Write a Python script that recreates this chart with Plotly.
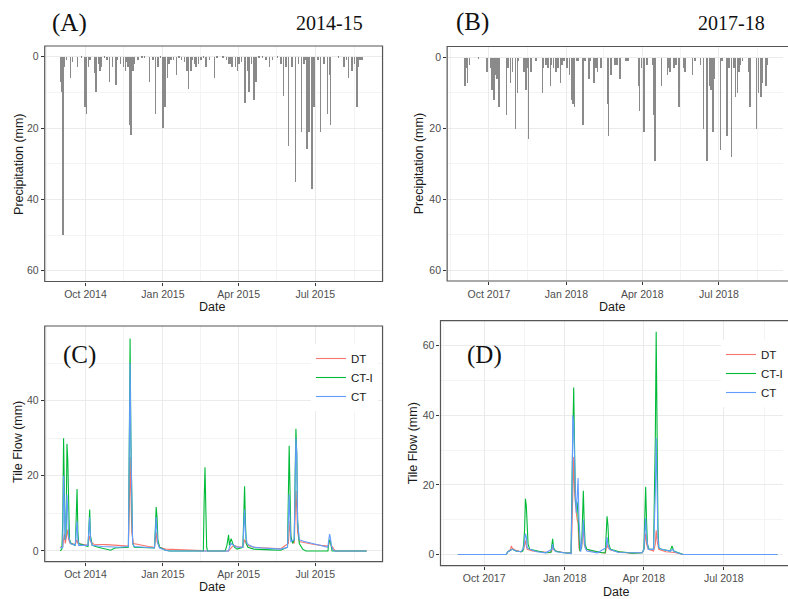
import pandas as pd
import plotly.graph_objects as go

W, H = 788, 599
SANS = "Liberation Sans, Arial, sans-serif"
SERIF = "Liberation Serif, Times New Roman, serif"

# ---------------- DATA ----------------
START_A = "2014-09-01"   # 2014-15 season, day 0
START_B = "2017-09-01"   # 2017-18 season, day 0

# daily precipitation events (day index, mm)
precip_a = [(0,7),(1,10),(3,50),(5,3),(7,1),(12,6),(14,1.5),(20,3),(25,0.5),(29,14),(31,16),(33,3),(35,1),
            (41,4.5),(42,10),(43,4),(45,2),(47,4),(49,3),(52,0.5),(55,1),(58,7),(62,3),(66,8),(68,1),(71,2),
            (75,3),(77,4),(79,1.5),(80,3),(82,19),(84,22),(86,4),(88,2),(92,1),(97,0.3),(100,0.5),(106,7),
            (110,1),(113,16),(116,3),(119,0.5),(122,20),(124,14),(127,6),(129,2),(131,1),(134,0.8),(138,5),
            (141,0.5),(144,1),(147,1.5),(150,4),(152,9),(155,4),(157,1),(159,2),(161,3),(164,2),(167,1),
            (170,0.5),(173,3),(177,1),(183,6),(186,0.3),(193,0.5),(197,1),(200,2),(202,2),(204,3),(208,3),
            (210,4),(212,2),(215,1.5),(219,13),(222,4),(224,10),(227,2),(230,12),(232,7),(233,5),(236,0.5),
            (240,0.5),(244,1),(248,3),(252,1),(258,0.3),(262,2),(265,11),(268,3),(271,25),(275,3),(279,35),
            (283,2),(286,21),(289,2),(291,1),(293,26),(295,21),(299,37),(301,14),(302,6),(306,1),(309,21),
            (313,2),(317,16),(320,5),(321,19),(330,0.5),(337,3),(340,1),(342,6),(346,4),(349,2),(352,14),
            (354,3),(356,1),(358,1)]

precip_b = [(1,7),(2,8),(4,3),(5,7),(7,2),(18,0.3),(28,4),(32,3),(34,9),(36,12),(38,5),(40,6),(42,14),
            (51,16),(53,3),(56,7),(58,4),(62,20),(64,10),(65,1),(72,4),(74,9),(76,3),(77,23),(80,4),(86,1),
            (94,10),(95,3),(98,2),(100,3),(103,8),(104,2),(107,3),(110,4),(112,3),(113,3),(115,7),(117,2),
            (119,1),(122,2),(123,3),(126,5),(128,12),(130,13),(132,14),(134,1),(136,1),(142,19),(144,1),
            (149,6),(151,1),(155,7),(157,3),(159,4),(163,3),(171,13),(172,22),(175,5),(180,2),(182,2),
            (186,6),(193,1),(195,1),(208,8),(209,15),(211,3),(214,21),(215,5),(218,2),(224,2),(226,16),
            (227,29),(228,11),(235,8),(242,5),(244,3),(245,4),(250,3),(252,2),(256,14),(261,3),(263,4),
            (272,5),(275,1),(281,2),(285,20),(289,29),(292,8),(294,9),(296,21),(298,6),(305,26),(307,1),
            (313,22),(315,3),(318,28),(321,3),(323,11),(325,10),(327,4),(329,2),(331,1),(339,4),(340,14),
            (348,20),(350,10),(353,11),(355,7),(359,8),(360,2)]

# tile flow breakpoints (day index, mm)
flow_c_dt = [(0,1.0),(3,1.2),(4,3),(5,4.5),(6,2),(8,4),(9,5.7),(10,3),(12,2),(18,1.8),(19,2.5),(20,3),(21,2),
             (33,1.5),(34,3),(35,4),(36,2.5),(40,1.8),(55,1.7),(70,1.4),(81,1.3),(82,10),(83,25),(84,15),
             (85,5),(87,2),(95,1.6),(105,1.2),(112,1.0),(113,3),(114,5),(115,2.5),(118,1),(125,0.5),
             (140,0.4),(160,0.3),(168,0.1),(171,0),(200,0),(203,0.8),(206,1.5),(210,1.2),(216,1),(218,2),
             (219,3),(220,2.5),(222,1.5),(230,1),(250,0.7),(262,0.6),(271,2),(272,6),(273,8),(274,3),
             (278,2),(279,9),(280,16),(281,11),(282,5),(284,2.5),(290,2.2),(300,1.8),(310,1.5),(318,1.3),
             (320,2.5),(322,1.5),(325,0.5),(327,0),(364,0)]
flow_c_cti = [(0,0),(2,0.5),(3,8),(4,30),(5,15),(6,3),(7,5),(8,28.5),(9,24),(10,8),(11,3),(13,2),(18,1.5),
              (19,9),(20,16.5),(21,5),(22,2),(33,1.2),(34,6),(35,11),(36,4),(38,1.5),(45,1),(55,0.5),(60,0.2),
              (65,0.8),(75,0.8),(81,1),(82,28),(83,56.5),(84,29),(85,8),(86,2),(88,1),(100,0.8),(112,0.8),
              (113,6),(114,11.7),(115,9),(116,3),(118,1),(125,0.2),(130,0),(170,0),(171,13.5),(172,22.3),
              (173,11),(174,1),(175,0),(196,0),(198,1.5),(200,4.3),(201,1.5),(203,3.3),(205,2),(207,1),
              (210,0.5),(217,1),(218,9),(219,17.2),(220,8),(221,2),(223,1),(230,0.5),(250,0.3),(262,0.2),
              (270,1),(271,15),(272,28),(273,16),(274,4),(276,2),(278,3),(279,20),(280,32.5),(281,26),
              (282,8),(284,2),(288,0.5),(292,0),(318,0),(319,2),(320,3),(321,2.5),(322,0.5),(323,0),(364,0)]
flow_c_ct = [(0,0.8),(3,1),(4,20),(5,10),(6,3),(8,15),(9,11),(10,4),(12,2),(18,1.5),(19,5),(20,8),(21,3),
             (22,1.5),(33,1.5),(34,7),(35,9),(36,3),(38,1.5),(50,1.2),(70,1.0),(81,1.2),(82,28),(83,50),
             (84,28),(85,7),(86,2),(88,1.2),(100,1.0),(112,0.8),(113,5),(114,9),(115,5),(116,2),(118,0.8),
             (125,0.2),(130,0),(200,0),(201,1),(203,2),(206,1.5),(210,1),(217,1),(218,7),(219,11),(220,5),
             (222,2),(225,1.5),(230,1),(240,0.8),(262,0.5),(270,1),(271,8),(272,15),(273,8),(274,2.5),
             (278,3),(279,25),(280,30),(281,26),(282,8),(284,3),(290,2.5),(300,2),(310,1.5),(318,1),
             (319,3),(320,4.5),(321,3.5),(322,1.5),(324,0.3),(326,0),(364,0)]

flow_d_dt = [(0,0),(55,0),(57,0.8),(60,1.5),(61,2.5),(62,1.8),(66,1.2),(72,0.8),(75,1.5),(76,3),(77,4),
             (78,2.5),(79,1.5),(85,1),(95,0.8),(105,0.6),(107,1),(108,2.5),(109,1.5),(112,1),(120,0.6),
             (129,0.4),(130,7),(131,20),(132,28),(133,18),(134,14),(135,12),(136,10),(137,9),(138,2),
             (139,1),(141,2),(142,5),(143,8),(144,3),(146,1.5),(153,1),(163,0.5),(168,0.4),(169,1.5),
             (170,3),(171,2),(174,1.3),(182,0.8),(197,0.4),(210,0.5),(212,1.5),(213,4),(214,6),(215,3),
             (217,1.5),(223,1),(225,3),(226,7),(227,4),(229,1.5),(237,0.8),(247,0.6),(252,0.3),(257,0),(364,0)]
flow_d_cti = [(0,0),(55,0),(57,0.8),(60,1.2),(62,1.5),(66,1),(72,0.8),(74,1),(75,3),(76,7),(77,16),(78,14),
              (79,8.5),(80,3),(82,1.5),(90,1),(100,0.5),(106,0.6),(107,2),(108,4.5),(109,2),(111,1),(120,0.5),
              (129,0.4),(130,20),(131,44),(132,48),(133,30.5),(134,15),(135,14),(136,15),(137,11),(138,3),
              (139,1),(141,2),(142,10),(143,18.3),(144,9),(145,3),(147,1.5),(154,1),(164,0.5),(168,0.5),
              (169,5),(170,11),(171,8.5),(172,3),(174,1.5),(184,0.8),(199,0.4),(210,0.5),(212,1.5),(213,10),
              (214,19.5),(215,10),(216,3),(218,1.5),(223,1.5),(224,18),(225,33),(226,64),(227,32),(228,8),
              (229,2),(232,1.5),(242,1),(244,2.5),(246,1),(252,0.5),(257,0),(364,0)]
flow_d_ct = [(0,0),(55,0),(57,0.8),(60,1.2),(62,1.5),(66,1),(72,0.8),(75,2),(76,4),(77,6),(78,5),(79,2),
             (82,1.5),(90,0.8),(100,0.5),(107,1.5),(108,3),(109,1.5),(112,0.8),(125,0.3),(129,0.3),(130,15),
             (131,40),(132,38),(133,23),(134,17),(135,12),(136,17),(137,22),(138,10),(139,2),(140,0.8),
             (142,5),(143,10),(144,5),(145,2),(147,1),(159,0.5),(169,2),(170,5),(171,3),(173,1.5),(183,0.6),
             (198,0.5),(210,0.5),(212,1.5),(213,6),(214,10.5),(215,5),(217,1.5),(223,1.5),(224,10),
             (225,17.5),(226,33.5),(227,17),(228,5),(229,2),(232,1.5),(242,1),(245,1.5),(247,0.8),(252,0.3),
             (256,0),(364,0)]

series_names = ["DT", "CT-I", "CT"]
series_colors = ["#F8766D", "#00BA38", "#619CFF"]

ticks_a_vals = ["2014-10-01", "2015-01-01", "2015-04-01", "2015-07-01"]
ticks_a_text = ["Oct 2014", "Jan 2015", "Apr 2015", "Jul 2015"]
minor_a_vals = ["2014-08-16", "2014-11-15 12:00", "2015-02-14 12:00", "2015-05-16 12:00", "2015-08-16"]
ticks_b_vals = ["2017-10-01", "2018-01-01", "2018-04-01", "2018-07-01"]
ticks_b_text = ["Oct 2017", "Jan 2018", "Apr 2018", "Jul 2018"]
minor_b_vals = ["2017-08-16", "2017-11-15 12:00", "2018-02-14 12:00", "2018-05-16 12:00", "2018-08-16"]

precip_ticks = [0, 20, 40, 60]
flow_c_ticks = [0, 20, 40]
flow_d_ticks = [0, 20, 40, 60]
y_minor = [10, 30, 50]

# ---------------- HELPERS ----------------
def dates(start, pairs):
    s = pd.Timestamp(start)
    return [s + pd.Timedelta(days=d) for d, _ in pairs]

def vals(pairs):
    return [v for _, v in pairs]

def px_x(p):
    return p / W

def px_y(p):
    return 1 - p / H

fig = go.Figure()

DAY_MS = 86400000
BAR_COLOR = "#8a8a8a"
fig.add_trace(go.Bar(x=dates(START_A, precip_a), y=vals(precip_a), width=0.6 * DAY_MS,
                     marker=dict(color=BAR_COLOR, line=dict(width=0)), xaxis="x", yaxis="y", showlegend=False))
fig.add_trace(go.Bar(x=dates(START_B, precip_b), y=vals(precip_b), width=0.6 * DAY_MS,
                     marker=dict(color=BAR_COLOR, line=dict(width=0)), xaxis="x2", yaxis="y2", showlegend=False))

for name, col, data in zip(series_names, series_colors, [flow_c_dt, flow_c_cti, flow_c_ct]):
    fig.add_trace(go.Scatter(x=dates(START_A, data), y=vals(data), mode="lines", name=name,
                             line=dict(color=col, width=1.1), xaxis="x3", yaxis="y3", legend="legend"))
for name, col, data in zip(series_names, series_colors, [flow_d_dt, flow_d_cti, flow_d_ct]):
    fig.add_trace(go.Scatter(x=dates(START_B, data), y=vals(data), mode="lines", name=name,
                             line=dict(color=col, width=1.1), xaxis="x4", yaxis="y4", legend="legend2"))

# panel geometry in pixels: (left, right, top, bottom)
PA = (45, 385, 46, 281.5)
PB = (450, 788, 46.5, 281)
PC = (45, 385, 326, 561.7)
PD = (443.3, 788, 320.7, 565.7)

def xax(p, rng, tv, tt, mv, anchor):
    return dict(domain=[px_x(p[0]), px_x(p[1])], range=rng, type="date", anchor=anchor,
                tickmode="array", tickvals=tv, ticktext=tt, ticks="outside", ticklen=3,
                tickcolor="#333333", tickwidth=1,
                tickfont=dict(family=SANS, size=10.5, color="#4d4d4d"),
                showgrid=True, gridcolor="#ebebeb", gridwidth=1,
                minor=dict(tickvals=mv, showgrid=True, gridcolor="#f4f4f4", gridwidth=0.6, ticks=""),
                showline=False, zeroline=False, fixedrange=True)

def yax(p, rng, tv, anchor):
    return dict(domain=[px_y(p[3]), px_y(p[2])], range=rng, anchor=anchor,
                tickmode="array", tickvals=tv, ticks="outside", ticklen=3,
                tickcolor="#333333", tickwidth=1,
                tickfont=dict(family=SANS, size=10.5, color="#4d4d4d"),
                showgrid=True, gridcolor="#ebebeb", gridwidth=1,
                minor=dict(tickvals=y_minor, showgrid=True, gridcolor="#f4f4f4", gridwidth=0.6, ticks=""),
                showline=False, zeroline=False, fixedrange=True)

fig.update_layout(
    width=W, height=H, margin=dict(l=0, r=0, t=0, b=0),
    paper_bgcolor="white", plot_bgcolor="white", bargap=0,
    xaxis=xax(PA, ["2014-08-13 14:00", "2015-09-18 22:00"], ticks_a_vals, ticks_a_text, minor_a_vals, "y"),
    yaxis=yax(PA, [63, -3], precip_ticks, "x"),
    xaxis2=xax(PB, ["2017-08-12 10:00", "2018-09-15 00:00"], ticks_b_vals, ticks_b_text, minor_b_vals, "y2"),
    yaxis2=yax(PB, [63, -3], precip_ticks, "x2"),
    xaxis3=xax(PC, ["2014-08-13 14:00", "2015-09-18 22:00"], ticks_a_vals, ticks_a_text, minor_a_vals, "y3"),
    yaxis3=yax(PC, [-2.85, 59.85], flow_c_ticks, "x3"),
    xaxis4=xax(PD, ["2017-08-12 05:00", "2018-09-06 12:00"], ticks_b_vals, ticks_b_text, minor_b_vals, "y4"),
    yaxis4=yax(PD, [-3.2, 67.2], flow_d_ticks, "x4"),
    legend=dict(x=px_x(313), y=px_y(344), xanchor="left", yanchor="top", bgcolor="white",
                font=dict(family=SANS, size=11.5, color="#1a1a1a"), borderwidth=0),
    legend2=dict(x=px_x(726), y=px_y(340), xanchor="left", yanchor="top", bgcolor="white",
                 font=dict(family=SANS, size=11.5, color="#1a1a1a"), borderwidth=0),
)

# panel borders
shapes = []
for p, extra in [(PA, 0), (PB, 6), (PC, 0), (PD, 6)]:
    shapes.append(dict(type="rect", xref="paper", yref="paper",
                       x0=px_x(p[0]), x1=px_x(p[1] + extra), y0=px_y(p[3]), y1=px_y(p[2]),
                       line=dict(color="#555555", width=1.2), fillcolor="rgba(0,0,0,0)", layer="above"))
fig.update_layout(shapes=shapes)

ann = []
def add_text(txt, x, y, size, family=SANS, color="#1a1a1a", angle=0):
    ann.append(dict(text=txt, x=px_x(x), y=px_y(y), xref="paper", yref="paper", showarrow=False,
                    xanchor="center", yanchor="middle", textangle=angle,
                    font=dict(family=family, size=size, color=color)))

add_text("(A)", 70, 23, 25, SERIF, "#111111")
add_text("2014-15", 332, 23, 20, SERIF, "#111111")
add_text("(B)", 475.5, 22, 25, SERIF, "#111111")
add_text("2017-18", 736.5, 23, 20, SERIF, "#111111")
add_text("(C)", 80, 355, 25, SERIF, "#111111")
add_text("(D)", 488, 355, 25, SERIF, "#111111")
add_text("Date", 213, 307, 12.5)
add_text("Date", 616, 307, 12.5)
add_text("Date", 213, 587, 12.5)
add_text("Date", 620, 592, 12.5)
add_text("Precipitation (mm)", 19, 164, 12.5, angle=-90)
add_text("Precipitation (mm)", 422, 164, 12.5, angle=-90)
add_text("Tile Flow (mm)", 18, 442, 12.5, angle=-90)
add_text("Tile Flow (mm)", 416, 443, 12.5, angle=-90)
fig.update_layout(annotations=ann)

fig.write_html("out.html")
